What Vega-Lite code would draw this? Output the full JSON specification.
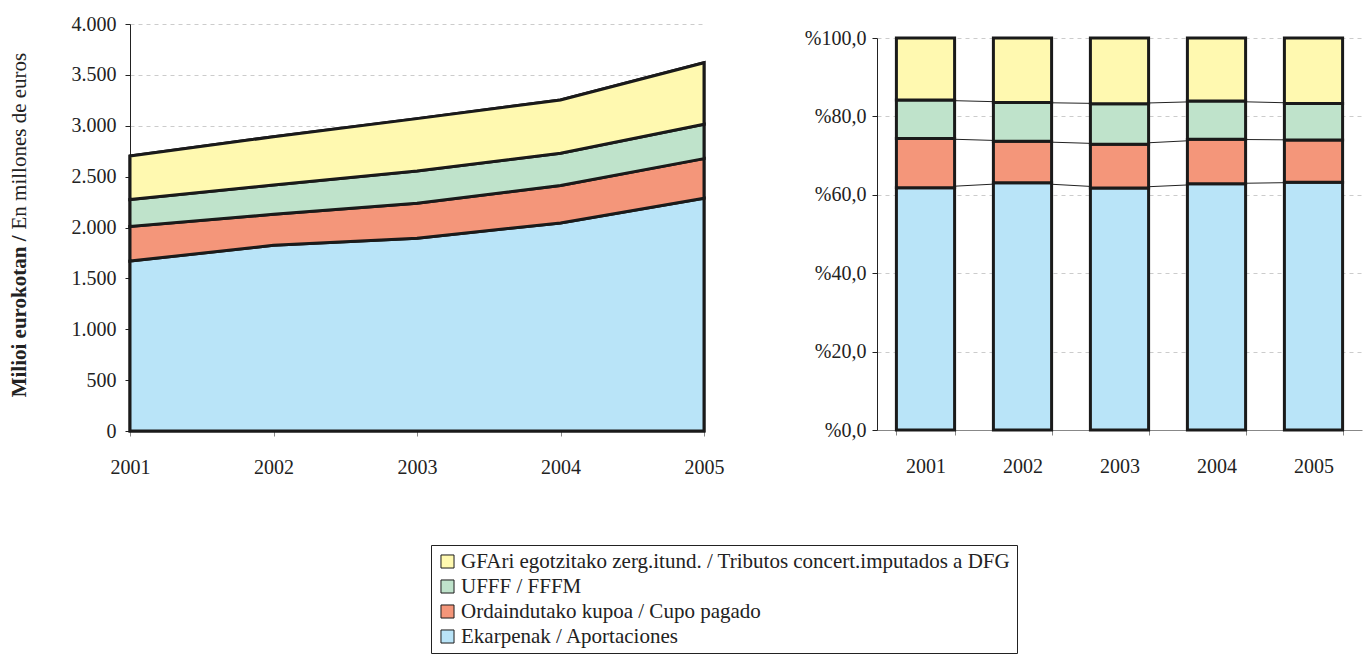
{
  "$schema": "https://vega.github.io/schema/vega-lite/v6.json",
  "padding": {"left": 8, "top": 14, "right": 5, "bottom": 0},
  "config": {
    "font": "Liberation Serif",
    "view": {"stroke": null},
    "axis": {"labelFont": "Liberation Serif", "labelFontSize": 20, "labelColor": "#222", "titleFont": "Liberation Serif", "titleFontSize": 21, "titleColor": "#222", "titleFontWeight": "normal"},
    "legend": {"labelFont": "Liberation Serif", "labelFontSize": 21, "labelColor": "#222"}
  },
  "data": {"values": [
    {"year": "2001", "serie": "Ekarpenak / Aportaciones", "v": 1670},
    {"year": "2001", "serie": "Ordaindutako kupoa / Cupo pagado", "v": 340},
    {"year": "2001", "serie": "UFFF / FFFM", "v": 265},
    {"year": "2001", "serie": "GFAri egotzitako zerg.itund. / Tributos concert.imputados a DFG", "v": 427},
    {"year": "2002", "serie": "Ekarpenak / Aportaciones", "v": 1825},
    {"year": "2002", "serie": "Ordaindutako kupoa / Cupo pagado", "v": 305},
    {"year": "2002", "serie": "UFFF / FFFM", "v": 287},
    {"year": "2002", "serie": "GFAri egotzitako zerg.itund. / Tributos concert.imputados a DFG", "v": 475},
    {"year": "2003", "serie": "Ekarpenak / Aportaciones", "v": 1895},
    {"year": "2003", "serie": "Ordaindutako kupoa / Cupo pagado", "v": 343},
    {"year": "2003", "serie": "UFFF / FFFM", "v": 317},
    {"year": "2003", "serie": "GFAri egotzitako zerg.itund. / Tributos concert.imputados a DFG", "v": 515},
    {"year": "2004", "serie": "Ekarpenak / Aportaciones", "v": 2045},
    {"year": "2004", "serie": "Ordaindutako kupoa / Cupo pagado", "v": 368},
    {"year": "2004", "serie": "UFFF / FFFM", "v": 317},
    {"year": "2004", "serie": "GFAri egotzitako zerg.itund. / Tributos concert.imputados a DFG", "v": 524},
    {"year": "2005", "serie": "Ekarpenak / Aportaciones", "v": 2287},
    {"year": "2005", "serie": "Ordaindutako kupoa / Cupo pagado", "v": 390},
    {"year": "2005", "serie": "UFFF / FFFM", "v": 338},
    {"year": "2005", "serie": "GFAri egotzitako zerg.itund. / Tributos concert.imputados a DFG", "v": 604}
  ]},
  "transform": [
    {"calculate": "indexof(['Ekarpenak / Aportaciones', 'Ordaindutako kupoa / Cupo pagado', 'UFFF / FFFM', 'GFAri egotzitako zerg.itund. / Tributos concert.imputados a DFG'], datum.serie)", "as": "k"}
  ],
  "spacing": 80,
  "hconcat": [
    {
      "width": 574,
      "height": 407,
      "encoding": {
        "x": {"field": "year", "type": "ordinal", "scale": {"type": "point", "padding": 0},
              "axis": {"title": null, "labelAngle": 0, "domainColor": "#888", "tickColor": "#888", "tickSize": 5, "labelPadding": 21, "grid": false}},
        "color": {"field": "serie", "type": "nominal",
                  "scale": {"domain": ["GFAri egotzitako zerg.itund. / Tributos concert.imputados a DFG", "UFFF / FFFM", "Ordaindutako kupoa / Cupo pagado", "Ekarpenak / Aportaciones"],
                            "range": ["#fff9b0", "#bfe3cb", "#f4967a", "#b9e4f8"]},
                  "legend": {"orient": "none", "legendX": 301, "legendY": 521, "title": null, "direction": "vertical",
                             "strokeColor": "#222", "fillColor": "white", "padding": 6, "symbolType": "square", "symbolSize": 170,
                             "symbolStrokeColor": "#222", "symbolStrokeWidth": 1, "symbolOpacity": 1, "rowPadding": 3, "labelLimit": 0, "labelOffset": 3}},
        "order": {"field": "k", "type": "quantitative", "sort": "ascending"}
      },
      "resolve": {"scale": {"y": "independent"}},
      "layer": [
        {
          "mark": {"type": "area", "stroke": "#1a1a1a", "strokeWidth": 3, "strokeJoin": "miter"},
          "encoding": {
            "y": {"field": "v", "type": "quantitative", "stack": "zero", "scale": {"domain": [0, 4000], "nice": false},
                  "axis": {"title": "Milioi eurokotan /", "titleFontWeight": "bold", "titleAngle": 270, "titleAlign": "right", "titleBaseline": "alphabetic",
                           "titleX": -105, "titleY": 211,
                           "values": [0,500,1000,1500,2000,2500,3000,3500,4000],
                           "labelExpr": "replace(format(datum.value, ','), ',', '.')", "domainColor": "#222", "tickColor": "#222", "tickSize": 5,
                           "labelPadding": 9, "grid": true, "gridColor": "#cccccc", "gridDash": [4, 4]}}
          }
        },
        {
          "mark": {"type": "area", "stroke": "#1a1a1a", "strokeWidth": 3, "strokeJoin": "miter"},
          "encoding": {
            "y": {"field": "v", "type": "quantitative", "stack": "zero", "scale": {"domain": [0, 4000], "nice": false},
                  "axis": {"orient": "left", "title": "En millones de euros", "titleAngle": 270, "titleAlign": "left", "titleBaseline": "alphabetic",
                           "titleX": -105, "titleY": 205,
                           "labels": false, "ticks": false, "domain": false, "grid": false}}
          }
        }
      ]
    },
    {
      "spacing": 3,
      "vconcat": [
        {
          "width": 485,
          "height": 1,
          "data": {"values": []},
          "mark": {"type": "point", "opacity": 0},
          "encoding": {}
        },
        {
          "width": 485,
          "height": 392,
          "transform": [
            {"stack": "v", "groupby": ["year"], "sort": [{"field": "k", "order": "ascending"}], "as": ["y0", "y1"], "offset": "normalize"}
          ],
          "encoding": {
            "x": {"field": "year", "type": "ordinal", "scale": {"type": "band", "paddingInner": 0.4, "paddingOuter": 0.2},
                  "axis": {"title": null, "labelAngle": 0, "domainColor": "#888", "tickColor": "#888", "tickSize": 5, "tickBand": "extent", "labelPadding": 21}}
          },
          "layer": [
            {
              "transform": [{"filter": "datum.k < 3"}],
              "mark": {"type": "line", "stroke": "#222", "strokeWidth": 1},
              "encoding": {
                "y": {"field": "y1", "type": "quantitative", "scale": {"domain": [0, 1], "nice": false},
                      "axis": {"title": null, "values": [0, 0.2, 0.4, 0.6, 0.8, 1],
                               "labelExpr": "'%' + replace(format(datum.value * 100, '.1f'), '.', ',')",
                               "domainColor": "#222", "tickColor": "#222", "tickSize": 5, "labelPadding": 6,
                               "grid": true, "gridColor": "#cccccc", "gridDash": [4, 4]}},
                "detail": {"field": "serie"}
              }
            },
            {
              "mark": {"type": "bar", "stroke": "#1a1a1a", "strokeWidth": 3},
              "encoding": {
                "y": {"field": "y0", "type": "quantitative", "scale": {"domain": [0, 1], "nice": false},
                      "axis": {"title": null, "values": [0, 0.2, 0.4, 0.6, 0.8, 1],
                               "labelExpr": "'%' + replace(format(datum.value * 100, '.1f'), '.', ',')",
                               "domainColor": "#222", "tickColor": "#222", "tickSize": 5, "labelPadding": 6,
                               "grid": true, "gridColor": "#cccccc", "gridDash": [4, 4]}},
                "y2": {"field": "y1"},
                "color": {"field": "serie", "type": "nominal"}
              }
            }
          ]
        }
      ]
    }
  ]
}
